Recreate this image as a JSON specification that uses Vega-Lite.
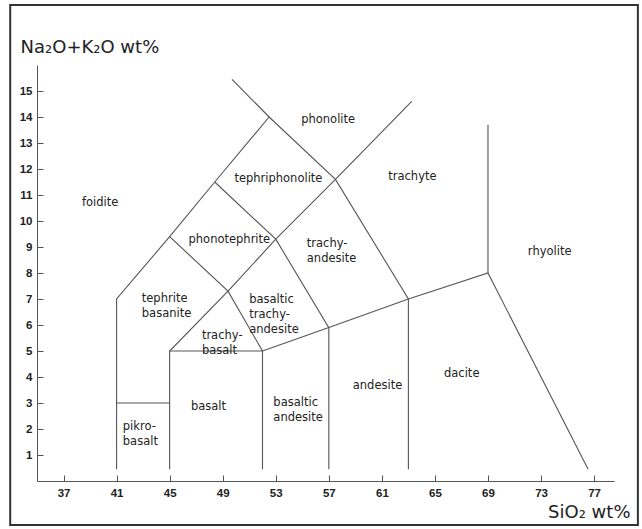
{
  "$schema": "https://vega.github.io/schema/vega-lite/v6.json",
  "width": 577,
  "height": 416,
  "autosize": {"type": "none"},
  "padding": {"left": 37, "top": 65, "right": 28, "bottom": 48},
  "background": "white",
  "config": {
    "view": {"stroke": null},
    "font": "DejaVu Sans",
    "axis": {
      "grid": false,
      "labelOverlap": false,
      "labelFlush": false,
      "tickSize": -6,
      "domainColor": "#555",
      "tickColor": "#555",
      "labelFont": "Liberation Sans",
      "labelFontWeight": "bold",
      "labelFontSize": 11.5,
      "labelColor": "#222",
      "titleFont": "DejaVu Sans",
      "titleFontWeight": "normal",
      "titleFontSize": 18,
      "titleColor": "#222"
    },
    "axisX": {"labelPadding": 12},
    "axisY": {"labelPadding": 11}
  },
  "datasets": {
    "lines": [
      {"seg": "L1", "o": 1, "x": 41, "y": 0.45},
      {"seg": "L1", "o": 2, "x": 41, "y": 7},
      {"seg": "L1", "o": 3, "x": 45, "y": 9.4},
      {"seg": "L1", "o": 4, "x": 48.4, "y": 11.5},
      {"seg": "L1", "o": 5, "x": 52.5, "y": 14},
      {"seg": "L2", "o": 1, "x": 49.7, "y": 15.45},
      {"seg": "L2", "o": 2, "x": 52.5, "y": 14},
      {"seg": "L2", "o": 3, "x": 57.5, "y": 11.6},
      {"seg": "L2", "o": 4, "x": 63, "y": 7},
      {"seg": "L2", "o": 5, "x": 63, "y": 0.45},
      {"seg": "L3", "o": 1, "x": 45, "y": 0.45},
      {"seg": "L3", "o": 2, "x": 45, "y": 5},
      {"seg": "L3", "o": 3, "x": 49.4, "y": 7.3},
      {"seg": "L3", "o": 4, "x": 53, "y": 9.3},
      {"seg": "L3", "o": 5, "x": 57.5, "y": 11.6},
      {"seg": "L3", "o": 6, "x": 63.25, "y": 14.6},
      {"seg": "L4", "o": 1, "x": 45, "y": 9.4},
      {"seg": "L4", "o": 2, "x": 49.4, "y": 7.3},
      {"seg": "L4", "o": 3, "x": 52, "y": 5},
      {"seg": "L4", "o": 4, "x": 52, "y": 0.45},
      {"seg": "L5", "o": 1, "x": 48.4, "y": 11.5},
      {"seg": "L5", "o": 2, "x": 53, "y": 9.3},
      {"seg": "L5", "o": 3, "x": 57, "y": 5.9},
      {"seg": "L5", "o": 4, "x": 57, "y": 0.45},
      {"seg": "L6", "o": 1, "x": 41, "y": 3},
      {"seg": "L6", "o": 2, "x": 45, "y": 3},
      {"seg": "L7", "o": 1, "x": 45, "y": 5},
      {"seg": "L7", "o": 2, "x": 52, "y": 5},
      {"seg": "L8", "o": 1, "x": 52, "y": 5},
      {"seg": "L8", "o": 2, "x": 57, "y": 5.9},
      {"seg": "L8", "o": 3, "x": 63, "y": 7},
      {"seg": "L8", "o": 4, "x": 69, "y": 8},
      {"seg": "L8", "o": 5, "x": 76.55, "y": 0.45},
      {"seg": "L9", "o": 1, "x": 69, "y": 8},
      {"seg": "L9", "o": 2, "x": 69, "y": 13.7}
    ],
    "labels": [
      {"t": "phonolite", "x": 56.95, "y": 13.88},
      {"t": "tephriphonolite", "x": 53.2, "y": 11.6},
      {"t": "trachyte", "x": 63.3, "y": 11.7},
      {"t": "foidite", "x": 39.76, "y": 10.7},
      {"t": "phonotephrite", "x": 49.5, "y": 9.27},
      {"t": "rhyolite", "x": 73.65, "y": 8.82},
      {"t": "andesite", "x": 60.67, "y": 3.67},
      {"t": "dacite", "x": 67.02, "y": 4.12},
      {"t": "basalt", "x": 47.93, "y": 2.86}
    ],
    "multi": [
      {"t": "trachy-\nandesite", "x": 55.34, "y": 9.11},
      {"t": "tephrite\nbasanite", "x": 42.9, "y": 6.99},
      {"t": "basaltic\ntrachy-\nandesite", "x": 51.0, "y": 6.96},
      {"t": "trachy-\nbasalt", "x": 47.43, "y": 5.57},
      {"t": "basaltic\nandesite", "x": 52.82, "y": 3.0},
      {"t": "pikro-\nbasalt", "x": 41.47, "y": 2.06}
    ]
  },
  "layer": [
    {
      "data": {"name": "lines"},
      "mark": {"type": "line", "stroke": "#555", "strokeWidth": 1.1},
      "encoding": {
        "x": {
          "field": "x", "type": "quantitative",
          "scale": {"domain": [35, 78.5], "nice": false, "zero": false},
          "axis": {
            "values": [37, 39, 41, 43, 45, 47, 49, 51, 53, 55, 57, 59, 61, 63, 65, 67, 69, 71, 73, 75, 77],
            "labelExpr": "(datum.value - 37) % 4 == 0 ? datum.label : ''",
            "labelOverlap": false,
            "title": "SiO₂ wt%",
            "titleAlign": "right",
            "titleBaseline": "alphabetic",
            "titleX": 593,
            "titleY": 36
          }
        },
        "y": {
          "field": "y", "type": "quantitative",
          "scale": {"domain": [0, 16], "nice": false, "zero": false},
          "axis": {
            "values": [1, 2, 3, 4, 5, 6, 7, 8, 9, 10, 11, 12, 13, 14, 15],
            "labelOverlap": false,
            "title": "Na₂O+K₂O wt%",
            "titleAngle": 0,
            "titleAlign": "left",
            "titleBaseline": "alphabetic",
            "titleX": -17,
            "titleY": -13
          }
        },
        "detail": {"field": "seg"},
        "order": {"field": "o", "type": "quantitative"}
      }
    },
    {
      "data": {"name": "labels"},
      "mark": {"type": "text", "font": "DejaVu Sans", "fontSize": 11.5, "fill": "#222", "align": "center", "baseline": "middle"},
      "encoding": {
        "x": {"field": "x", "type": "quantitative", "axis": {"labelOverlap": false}},
        "y": {"field": "y", "type": "quantitative", "axis": {"labelOverlap": false, "values": [1, 2, 3, 4, 5, 6, 7, 8, 9, 10, 11, 12, 13, 14, 15]}},
        "text": {"field": "t"}
      }
    },
    {
      "data": {"name": "multi"},
      "mark": {"type": "text", "font": "DejaVu Sans", "fontSize": 11.5, "fill": "#222", "align": "left", "baseline": "middle", "lineBreak": "\n", "lineHeight": 15},
      "encoding": {
        "x": {"field": "x", "type": "quantitative", "axis": {"labelOverlap": false}},
        "y": {"field": "y", "type": "quantitative", "axis": {"labelOverlap": false, "values": [1, 2, 3, 4, 5, 6, 7, 8, 9, 10, 11, 12, 13, 14, 15]}},
        "text": {"field": "t"}
      }
    },
    {
      "data": {"values": [{}]},
      "mark": {"type": "rect", "fill": "white", "fillOpacity": 0, "stroke": "#333", "strokeWidth": 2, "clip": false},
      "encoding": {
        "x": {"datum": 32.98, "type": "quantitative", "axis": {"labelOverlap": false}},
        "x2": {"datum": 80.3},
        "y": {"datum": 18.31, "type": "quantitative", "axis": {"labelOverlap": false, "values": [1, 2, 3, 4, 5, 6, 7, 8, 9, 10, 11, 12, 13, 14, 15]}},
        "y2": {"datum": -1.69}
      }
    }
  ]
}
